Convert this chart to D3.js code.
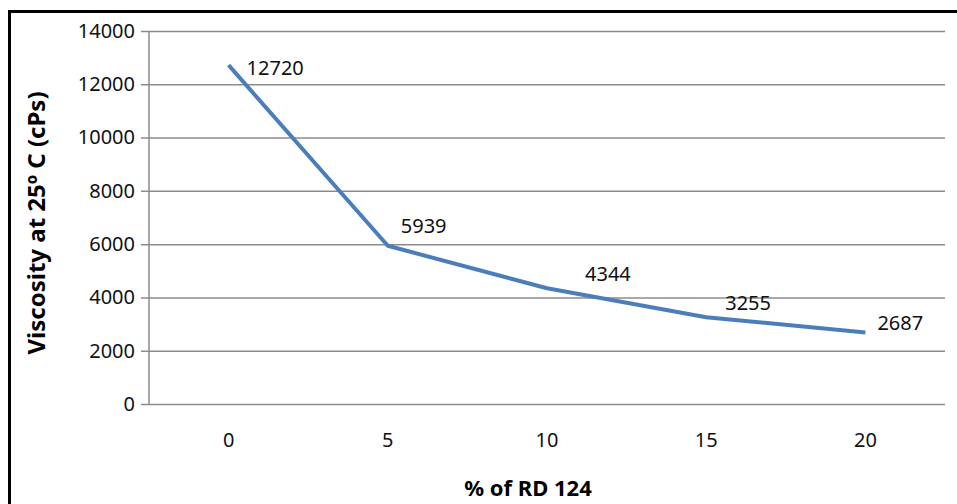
<!DOCTYPE html>
<html>
<head>
<meta charset="utf-8">
<script src="https://cdn.jsdelivr.net/npm/d3@7"></script>
<style>
  html, body { margin: 0; padding: 0; background: #fff; }
  svg { display: block; }
</style>
</head>
<body>
<svg id="chart" width="957" height="504"></svg>
<script>
// data
const categories = ["0", "5", "10", "15", "20"];
const viscosity = [12720, 5939, 4344, 3255, 2687];
const yTicks = [0, 2000, 4000, 6000, 8000, 10000, 12000, 14000];

// label nudges (dx, dy) in px, the labels were hand placed in the original
const labelNudge = [[18, 3], [13, -20], [38, -14], [19, -14], [12, -9]];

const width = 957;
const height = 504;
const margin = { top: 31, right: 12, bottom: 100, left: 149 };
const font = "'Noto Sans', 'Open Sans', sans-serif";

const svg = d3.select("#chart");

// outer frame (only left and top edges show in the crop)
svg.append("rect")
  .attr("x", 9.5)
  .attr("y", 11.5)
  .attr("width", width + 20)
  .attr("height", height + 20)
  .attr("fill", "none")
  .attr("stroke", "#000")
  .attr("stroke-width", 3);

const x = d3.scaleBand()
  .domain(categories)
  .range([margin.left, width - margin.right]);

const y = d3.scaleLinear()
  .domain([0, 14000])
  .range([height - margin.bottom, margin.top]);

// gridlines + y ticks
const yAxis = svg.append("g")
  .attr("transform", `translate(${margin.left},0)`)
  .call(
    d3.axisLeft(y)
      .tickValues(yTicks)
      .tickFormat(d3.format("d"))
      .tickSize(-(width - margin.right - margin.left))
      .tickPadding(14)
  );

yAxis.select(".domain").remove();
yAxis.selectAll(".tick line")
  .attr("x1", -8)
  .attr("stroke", "#8c8c8c")
  .attr("stroke-width", 1.5);
yAxis.selectAll(".tick text")
  .attr("font-family", font)
  .attr("font-size", 20)
  .attr("fill", "#111");

// vertical axis line
svg.append("line")
  .attr("x1", margin.left)
  .attr("x2", margin.left)
  .attr("y1", y(14000))
  .attr("y2", y(0))
  .attr("stroke", "#8c8c8c")
  .attr("stroke-width", 1.5);

// x axis labels (no ticks in the original)
const xAxis = svg.append("g")
  .attr("transform", `translate(0,${y(0)})`)
  .call(d3.axisBottom(x).tickSize(0).tickPadding(29));

xAxis.select(".domain").remove();
xAxis.selectAll(".tick text")
  .attr("font-family", font)
  .attr("font-size", 20)
  .attr("fill", "#111");

const cx = d => x(d) + x.bandwidth() / 2;

const line = d3.line()
  .x((d, i) => cx(categories[i]))
  .y(d => y(d));

svg.append("path")
  .datum(viscosity)
  .attr("d", line)
  .attr("fill", "none")
  .attr("stroke", "#4a7ebb")
  .attr("stroke-width", 4)
  .attr("stroke-linejoin", "round");

svg.append("g")
  .selectAll("text")
  .data(viscosity)
  .join("text")
  .attr("x", (d, i) => cx(categories[i]) + labelNudge[i][0])
  .attr("y", (d, i) => y(d) + labelNudge[i][1])
  .attr("dy", "0.35em")
  .attr("font-family", font)
  .attr("font-size", 20)
  .attr("fill", "#111")
  .text(d => d);

// axis titles
svg.append("text")
  .attr("transform", "translate(37,223) rotate(-90)")
  .attr("text-anchor", "middle")
  .attr("dy", "0.35em")
  .attr("font-family", font)
  .attr("font-size", 24)
  .attr("font-weight", "bold")
  .attr("fill", "#000")
  .text("Viscosity at 25º C (cPs)");

svg.append("text")
  .attr("x", 528)
  .attr("y", 488)
  .attr("text-anchor", "middle")
  .attr("dy", "0.35em")
  .attr("font-family", font)
  .attr("font-size", 22)
  .attr("font-weight", "bold")
  .attr("fill", "#000")
  .text("% of RD 124");
</script>
</body>
</html>
